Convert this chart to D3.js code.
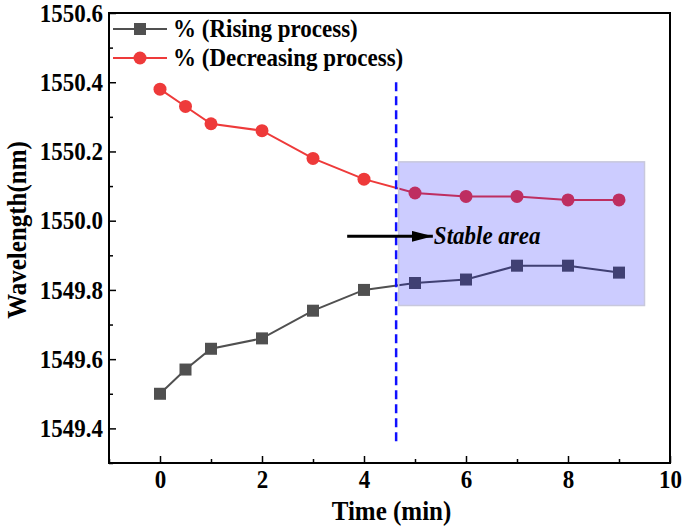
<!DOCTYPE html>
<html><head><meta charset="utf-8">
<script src="https://cdn.jsdelivr.net/npm/d3@7"></script>
<style>body{margin:0;background:#fff}svg{display:block}text{font-family:"Liberation Serif","Times New Roman",serif;font-weight:bold}</style>
</head><body>
<svg id="c" width="685" height="530"></svg>
<script>
const times = [0, 0.5, 1, 2, 3, 4, 5, 6, 7, 8, 9];
const rising = [1549.50, 1549.57, 1549.63, 1549.66, 1549.74, 1549.80, 1549.82, 1549.83, 1549.87, 1549.87, 1549.85];
const decreasing = [1550.38, 1550.33, 1550.28, 1550.26, 1550.18, 1550.12, 1550.08, 1550.07, 1550.07, 1550.06, 1550.06];
const seriesNames = ["% (Rising process)", "% (Decreasing process)"];
const xTicks = [0, 2, 4, 6, 8, 10];
const yTicks = [1549.4, 1549.6, 1549.8, 1550.0, 1550.2, 1550.4, 1550.6];
const stableBox = {x0: 4.68, x1: 9.5, y0: 1549.755, y1: 1550.17};
const divider = {x: 4.63, y0: 1549.36, y1: 1550.4};
const annotation = {text: "Stable area", x0: 3.67, x1: 5.35, y: 1549.955};

const svg = d3.select("#c");
const L = 109, R = 670, T = 13, B = 463;
const x = d3.scaleLinear().domain([-1, 10]).range([L, R]);
const y = d3.scaleLinear().domain([1549.3, 1550.6]).range([B, T]);
const VS = 1.12;
function stretch(sel) {
  sel.each(function() {
    const t = d3.select(this);
    const tx = +t.attr("x") || 0, ty = +t.attr("y") || 0;
    const prev = t.attr("transform") || "";
    t.attr("transform", `${prev} translate(${tx},${ty}) scale(1,${VS}) translate(${-tx},${-ty})`);
  });
}

const grayC = "#505050", redC = "#ee3a3a";
const line = d3.line().x(d => x(d[0])).y(d => y(d[1]));
const rData = times.map((t, i) => [t, rising[i]]);
const dData = times.map((t, i) => [t, decreasing[i]]);

svg.append("path").datum(rData).attr("d", line).attr("fill", "none").attr("stroke", grayC).attr("stroke-width", 2);
svg.selectAll(".sq").data(rData).enter().append("rect")
  .attr("x", d => x(d[0]) - 6).attr("y", d => y(d[1]) - 6).attr("width", 12).attr("height", 12).attr("fill", grayC);
svg.append("path").datum(dData).attr("d", line).attr("fill", "none").attr("stroke", redC).attr("stroke-width", 2);
svg.selectAll(".ci").data(dData).enter().append("circle")
  .attr("cx", d => x(d[0])).attr("cy", d => y(d[1])).attr("r", 6.5).attr("fill", redC);

svg.append("rect").attr("x", x(stableBox.x0)).attr("y", y(stableBox.y1))
  .attr("width", x(stableBox.x1) - x(stableBox.x0)).attr("height", y(stableBox.y0) - y(stableBox.y1))
  .attr("fill", "rgb(0,0,255)").attr("fill-opacity", 0.2).attr("stroke", "#c8c8dc").attr("stroke-width", 1.5);

svg.append("line").attr("x1", x(divider.x)).attr("x2", x(divider.x)).attr("y1", y(divider.y1)).attr("y2", y(divider.y0))
  .attr("stroke", "#1010ff").attr("stroke-width", 2.5).attr("stroke-dasharray", "9,5");

svg.append("defs").append("marker").attr("id", "ah").attr("viewBox", "0 0 10 10").attr("refX", 10).attr("refY", 5)
  .attr("markerWidth", 7).attr("markerHeight", 3.6).attr("markerUnits", "strokeWidth").attr("orient", "auto").attr("preserveAspectRatio", "none")
  .append("path").attr("d", "M0,0L10,5L0,10Z").attr("fill", "#000");
svg.append("line").attr("x1", x(annotation.x0)).attr("x2", x(annotation.x1)).attr("y1", y(annotation.y)).attr("y2", y(annotation.y))
  .attr("stroke", "#000").attr("stroke-width", 3).attr("marker-end", "url(#ah)");
svg.append("text").attr("x", x(annotation.x1) + 1).attr("y", y(annotation.y) + 8).attr("font-size", 23).attr("font-style", "italic").text(annotation.text).call(stretch);

const xAxis = svg.append("g").attr("transform", `translate(0,${B})`)
  .call(d3.axisBottom(x).tickValues(xTicks).tickSize(-7).tickPadding(7).tickFormat(d3.format("d")));
const xMinor = svg.append("g").attr("transform", `translate(0,${B})`)
  .call(d3.axisBottom(x).tickValues([-1, 1, 3, 5, 7, 9]).tickSize(-4).tickFormat(""));
const yAxis = svg.append("g").attr("transform", `translate(${L},0)`)
  .call(d3.axisLeft(y).tickValues(yTicks).tickSize(-7).tickPadding(6).tickFormat(d3.format(".1f")));
const yMinor = svg.append("g").attr("transform", `translate(${L},0)`)
  .call(d3.axisLeft(y).tickValues([1549.3, 1549.5, 1549.7, 1549.9, 1550.1, 1550.3, 1550.5]).tickSize(-4).tickFormat(""));
[xAxis, xMinor, yAxis, yMinor].forEach(g => {
  g.select(".domain").remove();
  g.selectAll("line").attr("stroke", "#000").attr("stroke-width", 1.5);
  g.selectAll("text").attr("font-size", 23).attr("fill", "#000").attr("font-family", '"Liberation Serif",serif').attr("font-weight", "bold").call(stretch);
});
svg.append("rect").attr("x", L).attr("y", T).attr("width", R - L).attr("height", B - T)
  .attr("fill", "none").attr("stroke", "#000").attr("stroke-width", 2);

svg.append("text").attr("x", (L + R) / 2 + 2).attr("y", 520).attr("text-anchor", "middle").attr("font-size", 25).text("Time (min)").call(stretch);
svg.append("text").attr("transform", `translate(26,${(T + B) / 2 - 8}) rotate(-90) scale(1,${VS})`).attr("text-anchor", "middle").attr("font-size", 25).text("Wavelength(nm)");

const lg = svg.append("g");
[[grayC, "sq"], [redC, "ci"]].forEach((s, i) => {
  const ly = 29 + i * 29;
  lg.append("line").attr("x1", 113).attr("x2", 167).attr("y1", ly).attr("y2", ly).attr("stroke", s[0]).attr("stroke-width", 2);
  if (s[1] === "sq") lg.append("rect").attr("x", 134).attr("y", ly - 6).attr("width", 12).attr("height", 12).attr("fill", s[0]);
  else lg.append("circle").attr("cx", 140).attr("cy", ly).attr("r", 6.5).attr("fill", s[0]);
  lg.append("text").attr("x", 173).attr("y", ly + 8).attr("font-size", 23).text(seriesNames[i]).call(stretch);
});
</script>
</body></html>
